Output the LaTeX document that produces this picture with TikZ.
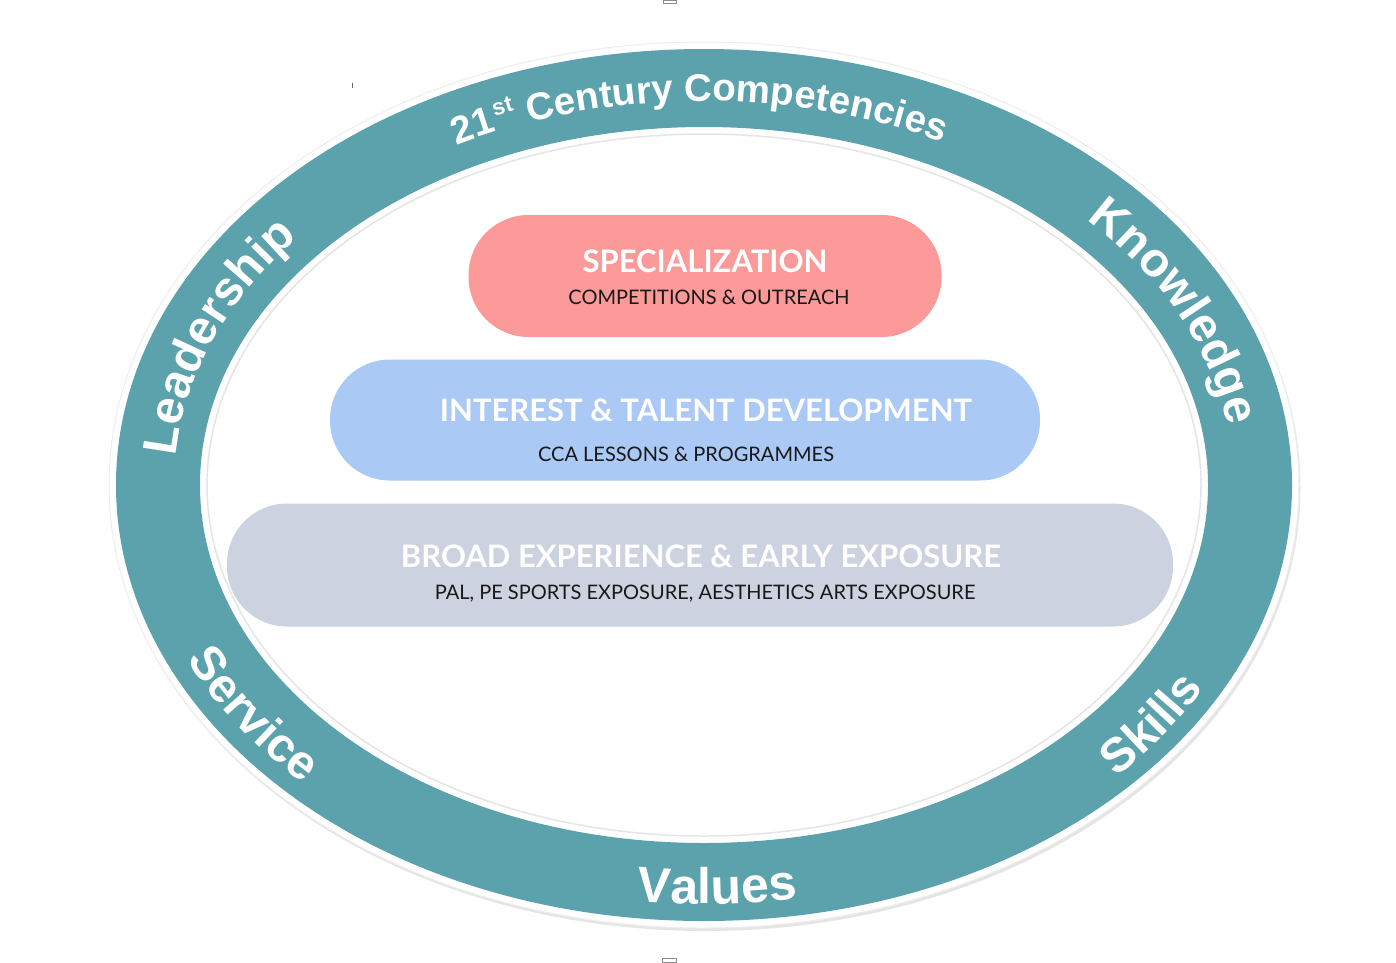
\documentclass[tikz,border=0pt]{standalone}
\usepackage{fontspec}
\usetikzlibrary{decorations.text,calc}
\newfontfamily\ringfam{Liberation Sans}
\newfontfamily\pillfam{Lato}
\definecolor{ringteal}{RGB}{91,162,173}
\definecolor{pinkfill}{RGB}{252,153,153}
\definecolor{bluefill}{RGB}{170,201,245}
\definecolor{greyfill}{RGB}{204,210,223}
\newcommand\RingHuge{\color{white}\ringfam\bfseries\fontsize{50}{50}\selectfont}
\newcommand\RingBig{\color{white}\ringfam\bfseries\fontsize{48}{48}\selectfont}
\newcommand\RingMed{\color{white}\ringfam\bfseries\fontsize{38.5}{38.5}\selectfont}
\newcommand\RingSup{\color{white}\ringfam\bfseries\fontsize{23}{23}\selectfont}
\begin{document}
\begin{tikzpicture}[x=1pt,y=1pt,
  pill/.style={rounded corners=60pt, inner sep=0pt, draw=none},
  head/.style={font=\pillfam\bfseries\fontsize{31}{31}\selectfont, text=white, inner sep=0pt, anchor=base},
  sub/.style={font=\pillfam\fontsize{20}{20}\selectfont, text=black!90, inner sep=0pt, anchor=base},
  ringtext/.style={decorate, decoration={text along path, text align=center, text={#1}}},
  toptext/.style={decorate, decoration={text along path, text={#1}}},
  handle/.style={draw=black!45, line width=0.8pt}
]
\useasboundingbox (0,0) rectangle (1396,-962);
\coordinate (C) at (704,-485);
% outer white border with faint shadow
\fill[black!10] ($(C)+(1.5,-3)$) ellipse [x radius=595, y radius=443];
\draw[black!7, line width=1pt, fill=white] (C) ellipse [x radius=595, y radius=443];
% teal ring
\fill[ringteal, even odd rule] (C) ellipse [x radius=588, y radius=436] (C) ellipse [x radius=504, y radius=358];
\draw[black!10, line width=1.5pt] (C) ellipse [x radius=497, y radius=351];

% pills
\node[pill, fill=pinkfill, minimum width=473pt, minimum height=122pt] (spec) at (705,-276) {};
\node[pill, fill=bluefill, minimum width=710pt, minimum height=121pt] (interest) at (685,-420) {};
\node[pill, fill=greyfill, minimum width=946pt, minimum height=123pt] (broad) at (700,-565) {};

\node[head] (specH) at (705,-272) {SPECIALIZATION};
\node[sub] (specS) at (709,-304) {COMPETITIONS \& OUTREACH};
\node[head] (intH) at (706,-421) {INTEREST \& TALENT DEVELOPMENT};
\node[sub] (intS) at (686,-461) {CCA LESSONS \& PROGRAMMES};
\node[head] (broadH) at (701,-567) {BROAD EXPERIENCE \& EARLY EXPOSURE};
\node[sub] (broadS) at (705,-599) {PAL, PE SPORTS EXPOSURE, AESTHETICS ARTS EXPOSURE};

% ring texts
\path[toptext={|\RingMed|21}]
  ($(C)+(117.8:530 and 384)$) arc[start angle=117.8, end angle=100, x radius=530, y radius=384];
\path[toptext={|\RingSup|st}, decoration={raise=15pt}]
  ($(C)+(112.8:530 and 384)$) arc[start angle=112.8, end angle=100, x radius=530, y radius=384];
\path[toptext={|\RingMed|Century Competencies}]
  ($(C)+(109.2:530 and 384)$) arc[start angle=109.2, end angle=30, x radius=530, y radius=384];
\path[ringtext={|\RingBig|Leadership}]
  ($(C)+(189:530 and 384)$) arc[start angle=189, end angle=129, x radius=530, y radius=384];
\path[ringtext={|\RingBig|Knowledge}]
  ($(C)+(55:530 and 384)$) arc[start angle=55, end angle=-5, x radius=530, y radius=384];
\path[ringtext={|\RingBig|Service}]
  ($(C)+(183:568 and 421)$) arc[start angle=183, end angle=243, x radius=568, y radius=421];
\path[ringtext={|\RingHuge|Values}]
  ($(C)+(246.4:566 and 419)$) arc[start angle=246.4, end angle=296.4, x radius=566, y radius=419];
\path[ringtext={|\RingBig|Skills}]
  ($(C)+(295.8:570 and 423)$) arc[start angle=295.8, end angle=355.8, x radius=570, y radius=423];

% small marks
\draw[handle] (663,0) rectangle (676,-3);
\draw[handle] (662,-958) rectangle (676,-962);
\draw[black!60, line width=0.8pt] (352,-83) -- (352,-88);
\end{tikzpicture}
\end{document}
